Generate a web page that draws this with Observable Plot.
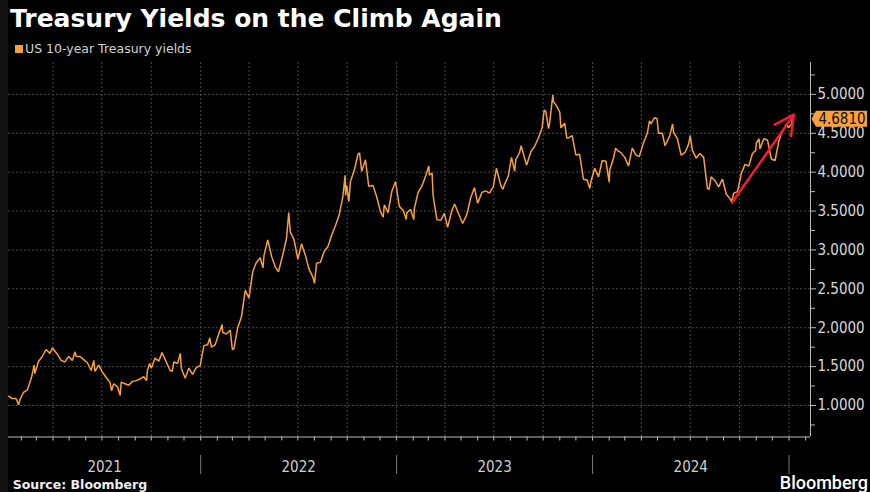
<!DOCTYPE html>
<html>
<head>
<meta charset="utf-8">
<script src="https://cdn.jsdelivr.net/npm/d3@7"></script>
<script src="https://cdn.jsdelivr.net/npm/@observablehq/plot@0.6"></script>
<style>
  html, body { margin: 0; padding: 0; background: #000; }
  #wrap { position: relative; width: 870px; height: 492px; background: #000; overflow: hidden; }
  #strip { position: absolute; left: 0; top: 0; width: 8px; height: 492px; background: #121212; }
  #chart { position: absolute; left: 0; top: 0; }
  .txt { position: absolute; white-space: nowrap; }
  #title { left: 10px; top: 5.5px; font: bold 25px/25px "DejaVu Sans", sans-serif; color: #fff; }
  #legend { left: 25px; top: 42.7px; font: 12.5px/12.5px "DejaVu Sans", sans-serif; color: #d2d2d2; }
  #swatch { position: absolute; left: 15px; top: 45px; width: 8px; height: 8px; background: #f7a13a; }
  #source { left: 12.7px; top: 479.4px; font: bold 12.5px/12.5px "DejaVu Sans", sans-serif; color: #eee; }
  #brand { right: 2px; top: 474.2px; font: 500 18px/18px Roboto, sans-serif; color: #fff; }
</style>
</head>
<body>
<div id="wrap">
  <div id="strip"></div>
  <div id="chart"></div>
  <div id="title" class="txt">Treasury Yields on the Climb Again</div>
  <div id="swatch"></div>
  <div id="legend" class="txt">US 10-year Treasury yields</div>
  <div id="source" class="txt">Source: Bloomberg</div>
  <div id="brand" class="txt">Bloomberg</div>
</div>
<script>
// ---- Data: US 10-year Treasury yield (%) ----
const obs2021 = [
  ["2021-01-08",1.12],["2021-01-15",1.09],["2021-01-22",1.09],["2021-01-27",1.01],["2021-01-29",1.07],
  ["2021-02-05",1.17],["2021-02-12",1.20],["2021-02-19",1.34],["2021-02-25",1.52],["2021-02-26",1.41],
  ["2021-03-05",1.57],["2021-03-12",1.63],["2021-03-19",1.72],["2021-03-26",1.67],["2021-03-31",1.74],
  ["2021-04-09",1.66],["2021-04-16",1.58],["2021-04-23",1.56],["2021-04-30",1.63],
  ["2021-05-07",1.58],["2021-05-12",1.69],["2021-05-14",1.63],["2021-05-21",1.63],["2021-05-28",1.59],
  ["2021-06-04",1.55],["2021-06-11",1.45],["2021-06-16",1.58],["2021-06-18",1.44],["2021-06-25",1.52],
  ["2021-07-02",1.43],["2021-07-09",1.36],["2021-07-16",1.30],["2021-07-19",1.19],["2021-07-23",1.28],["2021-07-30",1.24],
  ["2021-08-04",1.13],["2021-08-06",1.30],["2021-08-13",1.28],["2021-08-20",1.26],["2021-08-27",1.31],
  ["2021-09-03",1.32],["2021-09-10",1.34],["2021-09-17",1.37],["2021-09-22",1.32],["2021-09-24",1.46],["2021-09-28",1.54],
  ["2021-10-01",1.48],["2021-10-08",1.61],["2021-10-15",1.57],["2021-10-21",1.68],["2021-10-29",1.56],
  ["2021-11-05",1.45],["2021-11-09",1.44],["2021-11-12",1.56],["2021-11-19",1.54],["2021-11-24",1.67],["2021-11-26",1.48],
  ["2021-12-03",1.35],["2021-12-10",1.48],["2021-12-17",1.40],["2021-12-24",1.49],["2021-12-31",1.51]
];
const obs2022 = [
  ["2022-01-04",1.66],["2022-01-07",1.77],["2022-01-14",1.78],["2022-01-18",1.87],["2022-01-21",1.75],["2022-01-28",1.78],
  ["2022-02-04",1.93],["2022-02-10",2.04],["2022-02-11",1.94],["2022-02-18",1.92],["2022-02-25",1.97],
  ["2022-03-01",1.72],["2022-03-04",1.73],["2022-03-11",2.00],["2022-03-18",2.14],["2022-03-25",2.48],
  ["2022-04-01",2.38],["2022-04-08",2.72],["2022-04-14",2.83],["2022-04-22",2.90],["2022-04-27",2.77],["2022-04-29",2.93],
  ["2022-05-06",3.13],["2022-05-13",2.92],["2022-05-20",2.78],["2022-05-26",2.72],
  ["2022-06-03",2.94],["2022-06-10",3.15],["2022-06-14",3.48],["2022-06-17",3.23],["2022-06-24",3.13],
  ["2022-07-01",2.88],["2022-07-08",3.08],["2022-07-15",2.93],["2022-07-22",2.75],["2022-07-29",2.65],
  ["2022-08-01",2.57],["2022-08-05",2.83],["2022-08-12",2.84],["2022-08-19",2.98],["2022-08-26",3.04],
  ["2022-09-02",3.19],["2022-09-09",3.31],["2022-09-16",3.45],["2022-09-23",3.69],["2022-09-27",3.96],["2022-09-28",3.70],["2022-09-30",3.83],
  ["2022-10-04",3.62],["2022-10-07",3.88],["2022-10-14",4.02],["2022-10-21",4.23],["2022-10-24",4.25],["2022-10-28",4.01],
  ["2022-11-04",4.16],["2022-11-10",3.82],["2022-11-18",3.83],["2022-11-25",3.68],
  ["2022-12-02",3.49],["2022-12-07",3.42],["2022-12-09",3.58],["2022-12-16",3.48],["2022-12-23",3.75],["2022-12-30",3.88]
];
const obs2023 = [
  ["2023-01-06",3.56],["2023-01-13",3.51],["2023-01-19",3.39],["2023-01-20",3.48],["2023-01-27",3.52],
  ["2023-02-02",3.39],["2023-02-03",3.53],["2023-02-10",3.74],["2023-02-17",3.82],["2023-02-24",3.95],
  ["2023-03-02",4.08],["2023-03-03",3.96],["2023-03-08",3.99],["2023-03-10",3.70],["2023-03-17",3.39],["2023-03-24",3.38],["2023-03-31",3.47],
  ["2023-04-06",3.29],["2023-04-14",3.51],["2023-04-19",3.59],["2023-04-28",3.44],
  ["2023-05-04",3.34],["2023-05-12",3.46],["2023-05-19",3.67],["2023-05-26",3.80],
  ["2023-06-01",3.60],["2023-06-09",3.74],["2023-06-16",3.76],["2023-06-23",3.73],["2023-06-30",3.81],
  ["2023-07-06",4.05],["2023-07-14",3.83],["2023-07-18",3.78],["2023-07-21",3.84],["2023-07-28",3.95],
  ["2023-08-03",4.19],["2023-08-09",4.01],["2023-08-11",4.16],["2023-08-18",4.25],["2023-08-21",4.34],["2023-08-25",4.24],["2023-08-31",4.09],
  ["2023-09-08",4.26],["2023-09-15",4.33],["2023-09-22",4.44],["2023-09-29",4.57],
  ["2023-10-03",4.80],["2023-10-06",4.78],["2023-10-11",4.56],["2023-10-13",4.63],["2023-10-19",4.99],["2023-10-20",4.91],["2023-10-27",4.84],
  ["2023-11-01",4.77],["2023-11-03",4.57],["2023-11-10",4.63],["2023-11-14",4.44],["2023-11-17",4.44],["2023-11-24",4.47],
  ["2023-12-01",4.22],["2023-12-08",4.23],["2023-12-15",3.91],["2023-12-22",3.90],["2023-12-27",3.79],["2023-12-29",3.88]
];
const obs2024 = [
  ["2024-01-05",4.05],["2024-01-12",3.94],["2024-01-19",4.15],["2024-01-26",4.14],
  ["2024-02-01",3.87],["2024-02-02",4.03],["2024-02-09",4.18],["2024-02-13",4.31],["2024-02-16",4.28],["2024-02-23",4.25],
  ["2024-03-01",4.19],["2024-03-08",4.08],["2024-03-15",4.31],["2024-03-22",4.22],["2024-03-28",4.20],
  ["2024-04-05",4.38],["2024-04-12",4.50],["2024-04-16",4.66],["2024-04-19",4.62],["2024-04-25",4.70],["2024-04-30",4.69],
  ["2024-05-03",4.50],["2024-05-10",4.50],["2024-05-15",4.34],["2024-05-24",4.47],["2024-05-29",4.62],["2024-05-31",4.51],
  ["2024-06-07",4.43],["2024-06-14",4.22],["2024-06-21",4.25],["2024-06-28",4.36],
  ["2024-07-01",4.47],["2024-07-05",4.28],["2024-07-12",4.18],["2024-07-19",4.24],["2024-07-26",4.19],
  ["2024-08-02",3.79],["2024-08-05",3.78],["2024-08-09",3.94],["2024-08-16",3.89],["2024-08-23",3.81],["2024-08-30",3.91],
  ["2024-09-06",3.72],["2024-09-13",3.66],["2024-09-16",3.62],["2024-09-20",3.73],["2024-09-27",3.75],
  ["2024-10-04",3.98],["2024-10-11",4.10],["2024-10-18",4.08],["2024-10-25",4.24],["2024-10-31",4.28],
  ["2024-11-01",4.37],["2024-11-06",4.43],["2024-11-08",4.30],["2024-11-15",4.43],["2024-11-22",4.41],["2024-11-29",4.17],
  ["2024-12-06",4.15],["2024-12-13",4.40],["2024-12-18",4.50],["2024-12-20",4.52],["2024-12-27",4.62],["2024-12-31",4.57],
  ["2025-01-03",4.60],["2025-01-06",4.62],["2025-01-07",4.681]
];
const yTickValues = [1.0, 1.5, 2.0, 2.5, 3.0, 3.5, 4.0, 4.5, 5.0];
const yMinorValues = [0.75, 1.25, 1.75, 2.25, 2.75, 3.25, 3.75, 4.25, 4.75, 5.25];
const yearLabels = [2021, 2022, 2023, 2024];
const arrowFrom = ["2024-09-17", 3.61];
const arrowTo = ["2025-01-10", 4.74];
const lastLabel = "4.6810";

const xDomain = [new Date("2021-01-08T00:00Z"), new Date("2025-02-10T00:00Z")];
const yDomain = [0.595, 5.41];

const toDate = s => new Date(s + "T00:00Z");
const series = [...obs2021, ...obs2022, ...obs2023, ...obs2024].map(([d, v]) => ({date: toDate(d), value: v}));
const last = series[series.length - 1];
const arrows = [{x1: toDate(arrowFrom[0]), y1: arrowFrom[1], x2: toDate(arrowTo[0]), y2: arrowTo[1]}];

const monthTicks = d3.utcMonths(xDomain[0], xDomain[1]);
const quarterTicks = d3.utcMonth.every(3).range(xDomain[0], xDomain[1]);
const yearStarts = d3.utcYears(xDomain[0], xDomain[1]);
const yearMids = yearLabels.map(y => {
  const a = Math.max(+new Date(Date.UTC(y, 0, 1)), +xDomain[0]);
  const b = Math.min(+new Date(Date.UTC(y + 1, 0, 1)), +xDomain[1]);
  return new Date((a + b) / 2);
});

const ORANGE = "#f7a13a";
const GRID = "#4a4a4a";
const FONT = '"DejaVu Sans Condensed", "DejaVu Sans", sans-serif';

function lastValueTag(index, scales, values, dimensions) {
  const y = scales.y(last.value);
  const x0 = dimensions.width - dimensions.marginRight;
  const g = d3.create("svg:g");
  g.append("path")
    .attr("d", `M${x0 + 1.5},${y} L${x0 + 6},${y - 8} H${x0 + 57} V${y + 8} H${x0 + 6} Z`)
    .attr("fill", ORANGE);
  g.append("text")
    .attr("x", x0 + 32)
    .attr("y", y)
    .attr("dy", "0.36em")
    .attr("text-anchor", "middle")
    .attr("fill", "#111")
    .attr("font-size", 15)
    .attr("font-family", FONT)
    .text(lastLabel);
  return g.node();
}

const chart = Plot.plot({
  width: 870,
  height: 492,
  marginTop: 62,
  marginBottom: 55.5,
  marginLeft: 8,
  marginRight: 60,
  style: {background: "transparent", color: "#d0d0d0", fontFamily: FONT},
  x: {type: "utc", domain: xDomain, axis: null},
  y: {domain: yDomain, axis: null},
  marks: [
    Plot.gridY(yTickValues, {stroke: GRID, strokeOpacity: 1, strokeDasharray: "2,2"}),
    Plot.gridX(quarterTicks, {stroke: GRID, strokeOpacity: 1, strokeDasharray: "2,2"}),
    Plot.ruleY([yDomain[0]], {stroke: "#bbb", strokeWidth: 1}),
    Plot.ruleX([xDomain[1]], {stroke: "#bbb", strokeWidth: 1}),
    Plot.axisX(monthTicks, {anchor: "bottom", tickSize: 4, tickFormat: () => "", stroke: "#bbb", label: null}),
    Plot.axisX(yearStarts, {anchor: "bottom", tickSize: 19, tickFormat: () => "", stroke: "#777", dy: 18.5, label: null}),
    Plot.axisX(yearMids, {anchor: "bottom", tickSize: 0, tickPadding: 24, tickFormat: d3.utcFormat("%Y"), fill: "#cfcfcf", fontSize: 15, label: null}),
    Plot.axisY(yMinorValues, {anchor: "right", tickSize: 4, tickFormat: () => "", stroke: "#bbb", label: null}),
    Plot.axisY(yTickValues, {anchor: "right", tickSize: 5, tickPadding: 2, tickFormat: d3.format(".4f"), stroke: "#bbb", fill: "#d8d8d8", fontSize: 15, label: null}),
    Plot.lineY(series, {x: "date", y: "value", stroke: ORANGE, strokeWidth: 1.5, strokeLinejoin: "miter"}),
    Plot.arrow(arrows, {x1: "x1", y1: "y1", x2: "x2", y2: "y2", stroke: "#f81a34", strokeWidth: 2.5, headLength: 13, headAngle: 55}),
    lastValueTag
  ]
});
document.getElementById("chart").appendChild(chart);
</script>
</body>
</html>
